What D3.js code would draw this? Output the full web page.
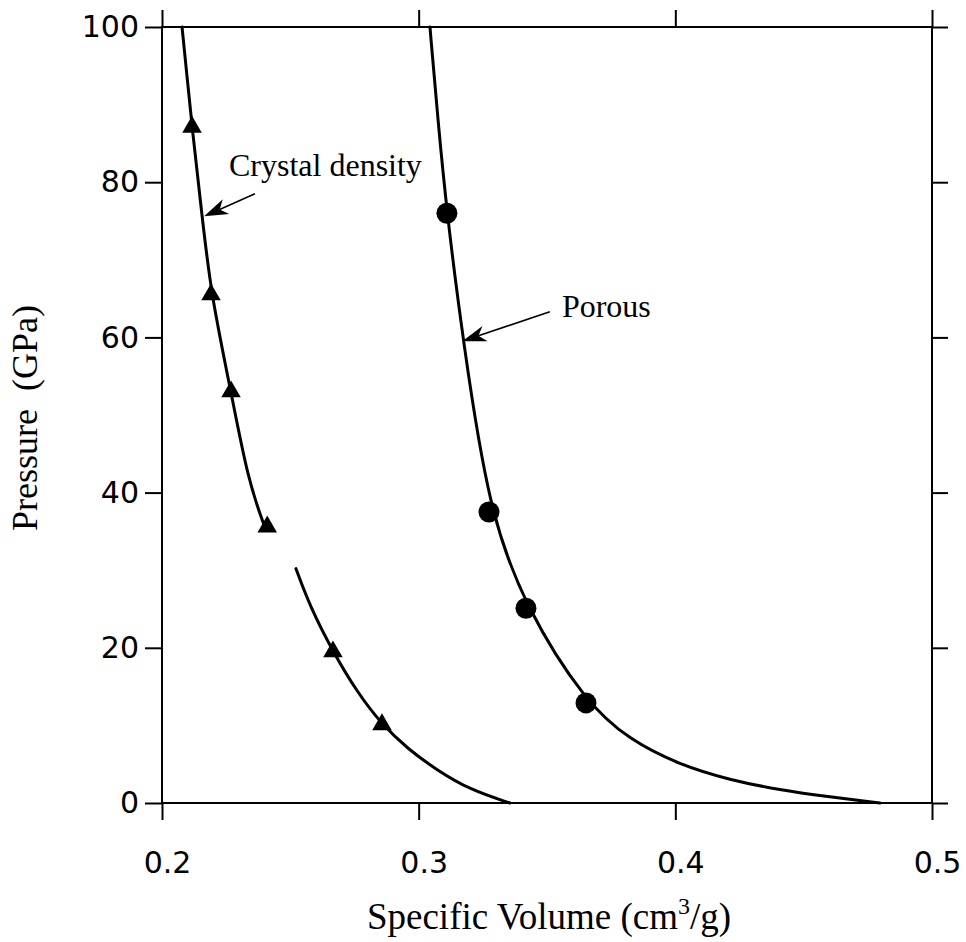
<!DOCTYPE html>
<html>
<head>
<meta charset="utf-8">
<script src="https://cdn.jsdelivr.net/npm/d3@7/dist/d3.min.js"></script>
<style>
  html, body { margin: 0; padding: 0; background: #fff; }
  svg { display: block; }
</style>
</head>
<body>
<svg id="chart" width="966" height="942"></svg>
<script>
// Axis ticks
const xTicks = [0.2, 0.3, 0.4, 0.5];
const yTicks = [0, 20, 40, 60, 80, 100];

// Measured points: crystal density (triangles)
const crystalV = [0.2117, 0.2191, 0.2269, 0.2410, 0.2666, 0.2857];
const crystalP = [87.1, 65.5, 53.0, 35.6, 19.5, 10.1];

// Measured points: porous (circles)
const porousV = [0.3110, 0.3274, 0.3418, 0.3652];
const porousP = [76.0, 37.5, 25.1, 12.9];

// Fitted curves (specific volume, pressure)
const crystalHighV = [0.2078, 0.2098, 0.2117, 0.2155, 0.2191, 0.2269, 0.2335, 0.2400];
const crystalHighP = [100, 93.5, 87.1, 76.0, 65.5, 53.0, 41.6, 35.6];
const crystalLowV = [0.2522, 0.2577, 0.2666, 0.2760, 0.2857, 0.2960, 0.3071, 0.3200, 0.3356];
const crystalLowP = [30.2, 25.3, 19.5, 14.3, 10.1, 6.9, 4.25, 1.7, 0];
const porousCurveV = [0.3044, 0.3075, 0.3110, 0.3173, 0.3274, 0.3418, 0.3652, 0.3823, 0.4018, 0.4213, 0.4407, 0.4602, 0.4797];
const porousCurveP = [100, 88.0, 76.0, 59.5, 37.5, 25.1, 12.9, 8.1, 4.9, 2.96, 1.68, 0.77, 0];

// Annotations: label anchor and arrow (from -> tip), in data units
const annLabels = ["Crystal density", "Porous"];
const annLabelV = [0.2261, 0.3558];
const annLabelP = [80.8, 62.6];
const annFromV = [0.2362, 0.3511];
const annFromP = [78.5, 63.3];
const annTipV = [0.2164, 0.3170];
const annTipP = [75.6, 59.5];

const svg = d3.select("#chart");
const W = 966, H = 942;
const m = { left: 162, right: 34, top: 27, bottom: 139 };

const x = d3.scaleLinear().domain([0.2, 0.5]).range([m.left, W - m.right]);
const y = d3.scaleLinear().domain([0, 100]).range([H - m.bottom, m.top]);

svg.append("rect").attr("width", W).attr("height", H).attr("fill", "#fff");

const tickFont = "'DejaVu Sans', Verdana, sans-serif";
const serif = "'Liberation Serif', 'Times New Roman', serif";

function styleAxis(g) {
  g.select(".domain").remove();
  g.selectAll(".tick line").attr("stroke", "#000").attr("stroke-width", 2);
  g.selectAll(".tick text").attr("fill", "#000")
    .style("font-family", tickFont).style("font-size", "30px");
}

svg.append("g")
  .attr("transform", `translate(0,${y(0)})`)
  .call(d3.axisBottom(x).tickValues(xTicks).tickFormat(d3.format(".1f"))
    .tickSize(17).tickPadding(32))
  .call(styleAxis)
  .call(g => g.selectAll(".tick text").attr("dx", 5));

svg.append("g")
  .attr("transform", `translate(0,${y(100)})`)
  .call(d3.axisTop(x).tickValues(xTicks).tickFormat("").tickSize(17))
  .call(styleAxis);

svg.append("g")
  .attr("transform", `translate(${x(0.2)},0)`)
  .call(d3.axisLeft(y).tickValues(yTicks).tickSize(17).tickPadding(6))
  .call(styleAxis);

svg.append("g")
  .attr("transform", `translate(${x(0.5)},0)`)
  .call(d3.axisRight(y).tickValues(yTicks).tickFormat("").tickSize(16))
  .call(styleAxis);

// Frame
svg.append("rect")
  .attr("x", x(0.2)).attr("y", y(100))
  .attr("width", x(0.5) - x(0.2)).attr("height", y(0) - y(100))
  .attr("fill", "none").attr("stroke", "#000").attr("stroke-width", 2);

// Curves
const line = d3.line().x(d => x(d[0])).y(d => y(d[1])).curve(d3.curveBasis);
const zip = (a, b) => a.map((v, i) => [v, b[i]]);

[zip(crystalHighV, crystalHighP), zip(crystalLowV, crystalLowP), zip(porousCurveV, porousCurveP)]
  .forEach(pts => {
    svg.append("path").attr("d", line(pts))
      .attr("fill", "none").attr("stroke", "#000").attr("stroke-width", 3)
      .attr("stroke-linecap", "round");
  });

// Markers
svg.append("g").selectAll("path")
  .data(zip(crystalV, crystalP))
  .join("path")
  .attr("transform", d => `translate(${x(d[0])},${y(d[1])})`)
  .attr("d", d3.symbol(d3.symbolTriangle, 165))
  .attr("fill", "#000");

svg.append("g").selectAll("circle")
  .data(zip(porousV, porousP))
  .join("circle")
  .attr("cx", d => x(d[0])).attr("cy", d => y(d[1]))
  .attr("r", 10.5).attr("fill", "#000");

// Annotation labels and arrows
annLabels.forEach((t, i) => {
  svg.append("text")
    .attr("x", x(annLabelV[i])).attr("y", y(annLabelP[i]))
    .style("font-family", serif).style("font-size", "32px")
    .attr("fill", "#000").text(t);

  const x0 = x(annFromV[i]), y0 = y(annFromP[i]);
  const x1 = x(annTipV[i]), y1 = y(annTipP[i]);
  const len = Math.hypot(x0 - x1, y0 - y1);
  const ux = (x0 - x1) / len, uy = (y0 - y1) / len;
  const px = -uy, py = ux;
  const L = 24, Wd = 8, notch = 17;
  svg.append("line")
    .attr("x1", x0).attr("y1", y0).attr("x2", x1 + ux * notch).attr("y2", y1 + uy * notch)
    .attr("stroke", "#000").attr("stroke-width", 1.6);
  const head = [
    [x1, y1],
    [x1 + ux * L + px * Wd, y1 + uy * L + py * Wd],
    [x1 + ux * notch, y1 + uy * notch],
    [x1 + ux * L - px * Wd, y1 + uy * L - py * Wd]
  ];
  svg.append("path").attr("d", "M" + head.map(p => p.join(",")).join("L") + "Z")
    .attr("fill", "#000");
});

// Axis titles
const xt = svg.append("text")
  .attr("x", (x(0.2) + x(0.5)) / 2 + 2).attr("y", 929)
  .attr("text-anchor", "middle")
  .style("font-family", serif).style("font-size", "37px").attr("fill", "#000");
xt.append("tspan").text("Specific Volume (cm");
xt.append("tspan").attr("dy", -15).style("font-size", "24px").text("3");
xt.append("tspan").attr("dy", 15).text("/g)");

svg.append("text")
  .attr("transform", `translate(37,${(y(0) + y(100)) / 2 + 3}) rotate(-90)`)
  .attr("text-anchor", "middle")
  .style("font-family", serif).style("font-size", "36px")
  .style("white-space", "pre").attr("fill", "#000")
  .text("Pressure  (GPa)");
</script>
</body>
</html>
